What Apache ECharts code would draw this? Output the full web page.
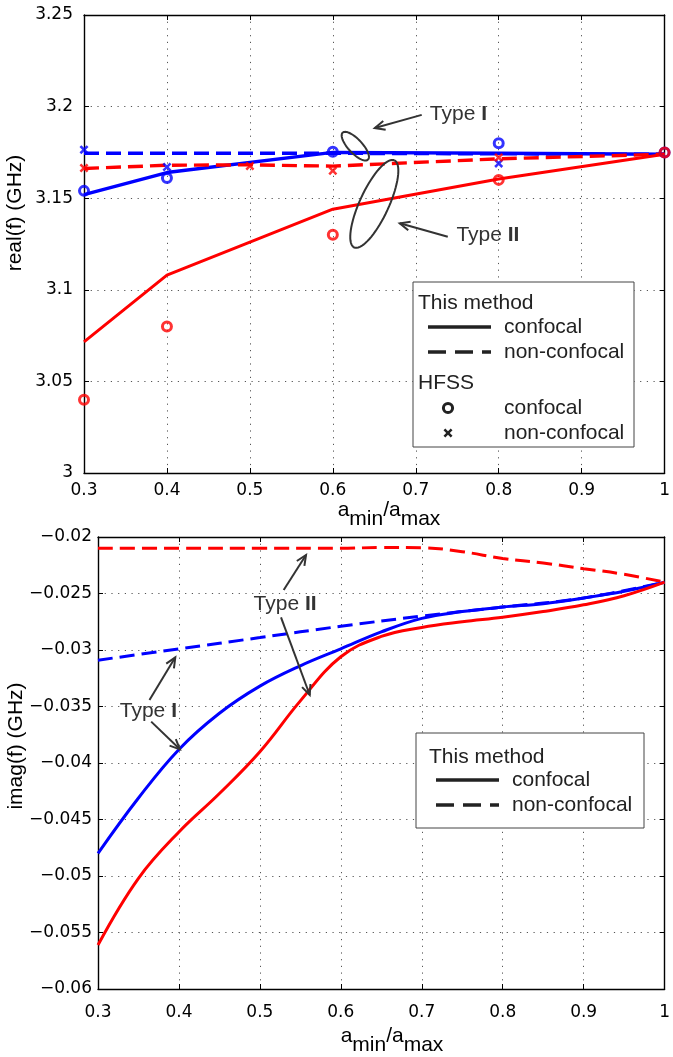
<!DOCTYPE html>
<html><head><meta charset="utf-8">
<script src="https://cdn.jsdelivr.net/npm/echarts@6/dist/echarts.min.js"></script>
<style>html,body{margin:0;padding:0;background:#fff}#c{width:673px;height:1057px}</style>
</head><body><div id="c"></div>
<script>
// ---------- Top panel: real(f) ----------
const methodX = [0.3, 0.4, 0.6, 0.8, 1];
const reConfocalRed = [3.0716, 3.108, 3.144, 3.1605, 3.174];
const reConfocalBlue = [3.152, 3.164, 3.175, 3.1745, 3.174];
const methodNonX = [0.3, 0.4, 0.5, 0.6, 0.8, 1];
const reNonConfRed = [3.1662, 3.168, 3.1682, 3.1675, 3.1715, 3.174];
const reNonConfBlue = [3.1745, 3.1745, 3.1745, 3.1745, 3.1742, 3.174];
const hfssConfX = [0.3, 0.4, 0.6, 0.8, 1];
const hfssConfRed = [3.04, 3.08, 3.13, 3.16, 3.175];
const hfssConfBlue = [3.154, 3.161, 3.1753, 3.180, 3.175];
const hfssNonRedX = [0.3, 0.5, 0.6, 0.8];
const hfssNonRed = [3.1665, 3.1676, 3.165, 3.1722];
const hfssNonBlueX = [0.3, 0.4, 0.8];
const hfssNonBlue = [3.1765, 3.167, 3.169];

// ---------- Bottom panel: imag(f) ----------
const imX = [0.3, 0.35, 0.4, 0.45, 0.5, 0.55, 0.6, 0.65, 0.7, 0.75, 0.8, 0.85, 0.9, 0.95, 1];
const imConfBlue = [-0.0480, -0.0431, -0.0388, -0.0356, -0.0332, -0.0314, -0.0299, -0.0284, -0.0272, -0.0266, -0.0262, -0.0259, -0.0254, -0.0248, -0.0240];
const imConfRed = [-0.0561, -0.0502, -0.0461, -0.0427, -0.0390, -0.0345, -0.0306, -0.0288, -0.0280, -0.0275, -0.0271, -0.0266, -0.0260, -0.0252, -0.0240];
const imNonBlueX = [0.3, 0.4, 0.5, 0.6, 0.7, 0.8, 0.9, 1];
const imNonBlue = [-0.0309, -0.0299, -0.0289, -0.0279, -0.0270, -0.0262, -0.0254, -0.0240];
const imNonRedX = [0.3, 0.4, 0.5, 0.6, 0.65, 0.7, 0.75, 0.8, 0.85, 0.9, 0.95, 1];
const imNonRed = [-0.0210, -0.0210, -0.0210, -0.0210, -0.02093, -0.02095, -0.0213, -0.0219, -0.0223, -0.0228, -0.0233, -0.0240];

const xTickLabels = ['0.3','0.4','0.5','0.6','0.7','0.8','0.9','1'];

const BLUE = '#0000ff', RED = '#ff0000', INK = '#222';
const TICKFONT = 'DejaVu Sans';
const TXT = '"Liberation Sans", Arial, sans-serif';
const XMARK = 'path://M2,0L5,3L8,0L10,2L7,5L10,8L8,10L5,7L2,10L0,8L3,5L0,2Z';

const pairs = (xs, ys) => xs.map((x, i) => [x, ys[i]]);
const fmtX = v => { const i = Math.round((v - 0.3) * 10); return xTickLabels[i] !== undefined ? xTickLabels[i] : ''; };
const grid = [
  {left: 84, top: 15, width: 581, height: 458},
  {left: 98, top: 537, width: 572, height: 452}
];
const split = {show: true, lineStyle: {type: [1.2, 5.5], color: '#555', width: 1}};
function mainX(gi, margin) {
  return {type: 'value', gridIndex: gi, min: 0.3, max: 1, interval: 0.1, position: 'bottom',
    axisLine: {lineStyle: {color: '#000', width: 1.4}},
    axisTick: {inside: true, length: 5, lineStyle: {color: '#000'}},
    axisLabel: {formatter: fmtX, fontFamily: TICKFONT, fontSize: 17, color: '#000', margin: margin},
    splitLine: split};
}
function frameX(gi) {
  return {type: 'value', gridIndex: gi, min: 0.3, max: 1, interval: 0.1, position: 'top',
    axisLine: {show: true, lineStyle: {color: '#000', width: 1.4}},
    axisTick: {inside: true, length: 5, lineStyle: {color: '#000'}},
    axisLabel: {show: false}, splitLine: {show: false}};
}
function mainY(gi, min, max, iv, fmt, margin) {
  return {type: 'value', gridIndex: gi, min, max, interval: iv, position: 'left',
    axisLine: {show: true, lineStyle: {color: '#000', width: 1.4}},
    axisTick: {show: true, inside: true, length: 5, lineStyle: {color: '#000'}},
    axisLabel: {formatter: fmt, fontFamily: TICKFONT, fontSize: 17, color: '#000', margin: margin},
    splitLine: split};
}
function frameY(gi, min, max, iv) {
  return {type: 'value', gridIndex: gi, min, max, interval: iv, position: 'right',
    axisLine: {show: true, lineStyle: {color: '#000', width: 1.4}},
    axisTick: {show: true, inside: true, length: 5, lineStyle: {color: '#000'}},
    axisLabel: {show: false}, splitLine: {show: false}};
}
const fmtTop = v => String(+v.toFixed(3));
const fmtBot = v => String(+v.toFixed(4)).replace('-', '\u2212');

function line(name, xi, yi, xs, ys, color, dashed, smooth, w) {
  return {name, type: 'line', xAxisIndex: xi, yAxisIndex: yi, data: pairs(xs, ys),
    showSymbol: false, symbol: 'none', smooth: smooth || false, animation: false,
    lineStyle: {color, width: w || 3.4, type: dashed ? [15, 7] : 'solid', cap: 'butt'}};
}
function marks(name, xs, ys, color, kind) {
  const s = {name, type: 'scatter', xAxisIndex: 0, yAxisIndex: 0, data: pairs(xs, ys), animation: false, z: 5};
  if (kind === 'o') { s.symbol = 'circle'; s.symbolSize = 9; s.itemStyle = {color: 'rgba(255,255,255,0)', borderColor: color, borderWidth: 3}; }
  else { s.symbol = XMARK; s.symbolSize = 9; s.itemStyle = {color: color}; }
  return s;
}

const chart = echarts.init(document.getElementById('c'), null, {renderer: 'canvas'});
chart.setOption({
  backgroundColor: '#fff',
  animation: false,
  grid,
  xAxis: [mainX(0, 9), frameX(0), mainX(1, 15), frameX(1)],
  yAxis: [mainY(0, 3, 3.25, 0.05, fmtTop, 11), frameY(0, 3, 3.25, 0.05), mainY(1, -0.06, -0.02, 0.005, fmtBot, 6), frameY(1, -0.06, -0.02, 0.005)],
  series: [
    line('re non-confocal blue', 0, 0, methodNonX, reNonConfBlue, BLUE, true),
    line('re confocal blue', 0, 0, methodX, reConfocalBlue, BLUE, false),
    line('re non-confocal red', 0, 0, methodNonX, reNonConfRed, RED, true),
    line('re confocal red', 0, 0, methodX, reConfocalRed, RED, false, false, 3),
    marks('HFSS confocal blue', hfssConfX, hfssConfBlue, BLUE, 'o'),
    marks('HFSS confocal red', hfssConfX, hfssConfRed, RED, 'o'),
    marks('HFSS non-confocal blue', hfssNonBlueX, hfssNonBlue, BLUE, 'x'),
    marks('HFSS non-confocal red', hfssNonRedX, hfssNonRed, RED, 'x'),
    line('im non-confocal red', 2, 2, imNonRedX, imNonRed, RED, true, 0.4, 3),
    line('im non-confocal blue', 2, 2, imNonBlueX, imNonBlue, BLUE, true, 0.4, 3),
    line('im confocal blue', 2, 2, imX, imConfBlue, BLUE, false, 0.4, 3),
    line('im confocal red', 2, 2, imX, imConfRed, RED, false, 0.4, 3)
  ]
});

// ---------- annotations (anchored in data coordinates) ----------
const P0 = p => chart.convertToPixel({xAxisIndex: 0, yAxisIndex: 0}, p);
const P1 = p => chart.convertToPixel({xAxisIndex: 2, yAxisIndex: 2}, p);
const G = [];
const ANN = '#333';
function arrow(a, b) {
  const ang = Math.atan2(b[1] - a[1], b[0] - a[0]), L = 11, h = 0.42;
  const h1 = [b[0] - L * Math.cos(ang - h), b[1] - L * Math.sin(ang - h)];
  const h2 = [b[0] - L * Math.cos(ang + h), b[1] - L * Math.sin(ang + h)];
  G.push({type: 'polyline', shape: {points: [a, b]}, style: {stroke: ANN, lineWidth: 2, fill: null}, z: 10});
  G.push({type: 'polyline', shape: {points: [h1, b, h2]}, style: {stroke: ANN, lineWidth: 2, fill: null}, z: 10});
}
function ellipse(c, a, b, th) {
  const pts = [];
  for (let i = 0; i <= 72; i++) {
    const t = i / 72 * 2 * Math.PI, x = a * Math.cos(t), y = b * Math.sin(t);
    pts.push([c[0] + x * Math.cos(th) - y * Math.sin(th), c[1] + x * Math.sin(th) + y * Math.cos(th)]);
  }
  G.push({type: 'polyline', shape: {points: pts}, style: {stroke: ANN, lineWidth: 2, fill: null}, z: 10});
}
function typeLabel(p, roman) {
  G.push({type: 'text', x: p[0], y: p[1], z: 10, style: {
    text: '{n|Type }{b|' + roman + '}', align: 'left', verticalAlign: 'middle',
    rich: {n: {fontSize: 21, fontFamily: TXT, fill: ANN}, b: {fontSize: 21, fontFamily: TXT, fontWeight: 'bold', fill: ANN}}}});
}
// top panel
ellipse(P0([0.6271, 3.1784]), 18.5, 7, Math.atan2(80, 75));
ellipse(P0([0.650, 3.1469]), 48, 14.5, Math.atan2(-260, 120));
arrow(P0([0.7072, 3.1955]), P0([0.6506, 3.1883]));
arrow(P0([0.7386, 3.1290]), P0([0.6807, 3.1363]));
typeLabel(P0([0.7169, 3.1958]), 'I');
typeLabel(P0([0.7490, 3.1300]), 'II');
// bottom panel
arrow(P1([0.3636, -0.03442]), P1([0.3955, -0.03065]));
arrow(P1([0.3657, -0.03634]), P1([0.4012, -0.03879]));
arrow(P1([0.5261, -0.02711]), P1([0.5616, -0.03398]));
arrow(P1([0.5294, -0.02469]), P1([0.5570, -0.02159]));
typeLabel(P1([0.3269, -0.03546]), 'I');
typeLabel(P1([0.4922, -0.02593]), 'II');

// ---------- axis titles ----------
const subRich = {
  a: {fontSize: 21, fontFamily: TXT, fill: '#000', lineHeight: 22, padding: [0, 0, 9, 0]},
  s: {fontSize: 21, fontFamily: TXT, fill: '#000', lineHeight: 22, padding: [9, 0, 0, 0]}
};
const xTitle = '{a|a}{s|min}{a|/a}{s|max}';
G.push({type: 'text', x: 389, y: 504, style: {text: xTitle, rich: subRich, align: 'center', verticalAlign: 'top'}});
G.push({type: 'text', x: 392, y: 1030, style: {text: xTitle, rich: subRich, align: 'center', verticalAlign: 'top'}});
G.push({type: 'text', x: 15, y: 213, rotation: Math.PI / 2, style: {text: 'real(f) (GHz)', fontSize: 21, fontFamily: TXT, fill: '#000', align: 'center', verticalAlign: 'middle'}});
G.push({type: 'text', x: 16, y: 746, rotation: Math.PI / 2, style: {text: 'imag(f) (GHz)', fontSize: 21, fontFamily: TXT, fill: '#000', align: 'center', verticalAlign: 'middle'}});

// ---------- legends ----------
function legText(x, y, t) {
  G.push({type: 'text', x, y, z: 21, style: {text: t, fontSize: 21, fontFamily: TXT, fill: INK, align: 'left', verticalAlign: 'middle'}});
}
function legLine(x0, x1, y, dashed) {
  G.push({type: 'line', z: 21, shape: {x1: x0, y1: y, x2: x1, y2: y}, style: {stroke: INK, lineWidth: 3.4, lineDash: dashed ? [18, 9] : null}});
}
// top legend
G.push({type: 'rect', z: 20, shape: {x: 413, y: 282, width: 221, height: 165}, style: {fill: '#fff', stroke: '#444', lineWidth: 1}});
legText(418, 303, 'This method');
legLine(428, 491, 327, false); legText(504, 327, 'confocal');
legLine(428, 491, 352, true); legText(504, 352, 'non-confocal');
legText(418, 383, 'HFSS');
G.push({type: 'circle', z: 21, shape: {cx: 448, cy: 408, r: 4.6}, style: {fill: null, stroke: INK, lineWidth: 3}});
legText(504, 408, 'confocal');
G.push({type: 'polygon', z: 21, x: 443.5, y: 428.5, shape: {points: [[2,0],[5,3],[8,0],[10,2],[7,5],[10,8],[8,10],[5,7],[2,10],[0,8],[3,5],[0,2]]}, scaleX: 0.9, scaleY: 0.9, style: {fill: INK}});
legText(504, 433, 'non-confocal');
// bottom legend
G.push({type: 'rect', z: 20, shape: {x: 416, y: 733, width: 228, height: 95}, style: {fill: '#fff', stroke: '#444', lineWidth: 1}});
legText(429, 757, 'This method');
legLine(436, 499, 780, false); legText(512, 780, 'confocal');
legLine(436, 499, 805, true); legText(512, 805, 'non-confocal');

chart.setOption({graphic: G});
</script>
</body></html>
